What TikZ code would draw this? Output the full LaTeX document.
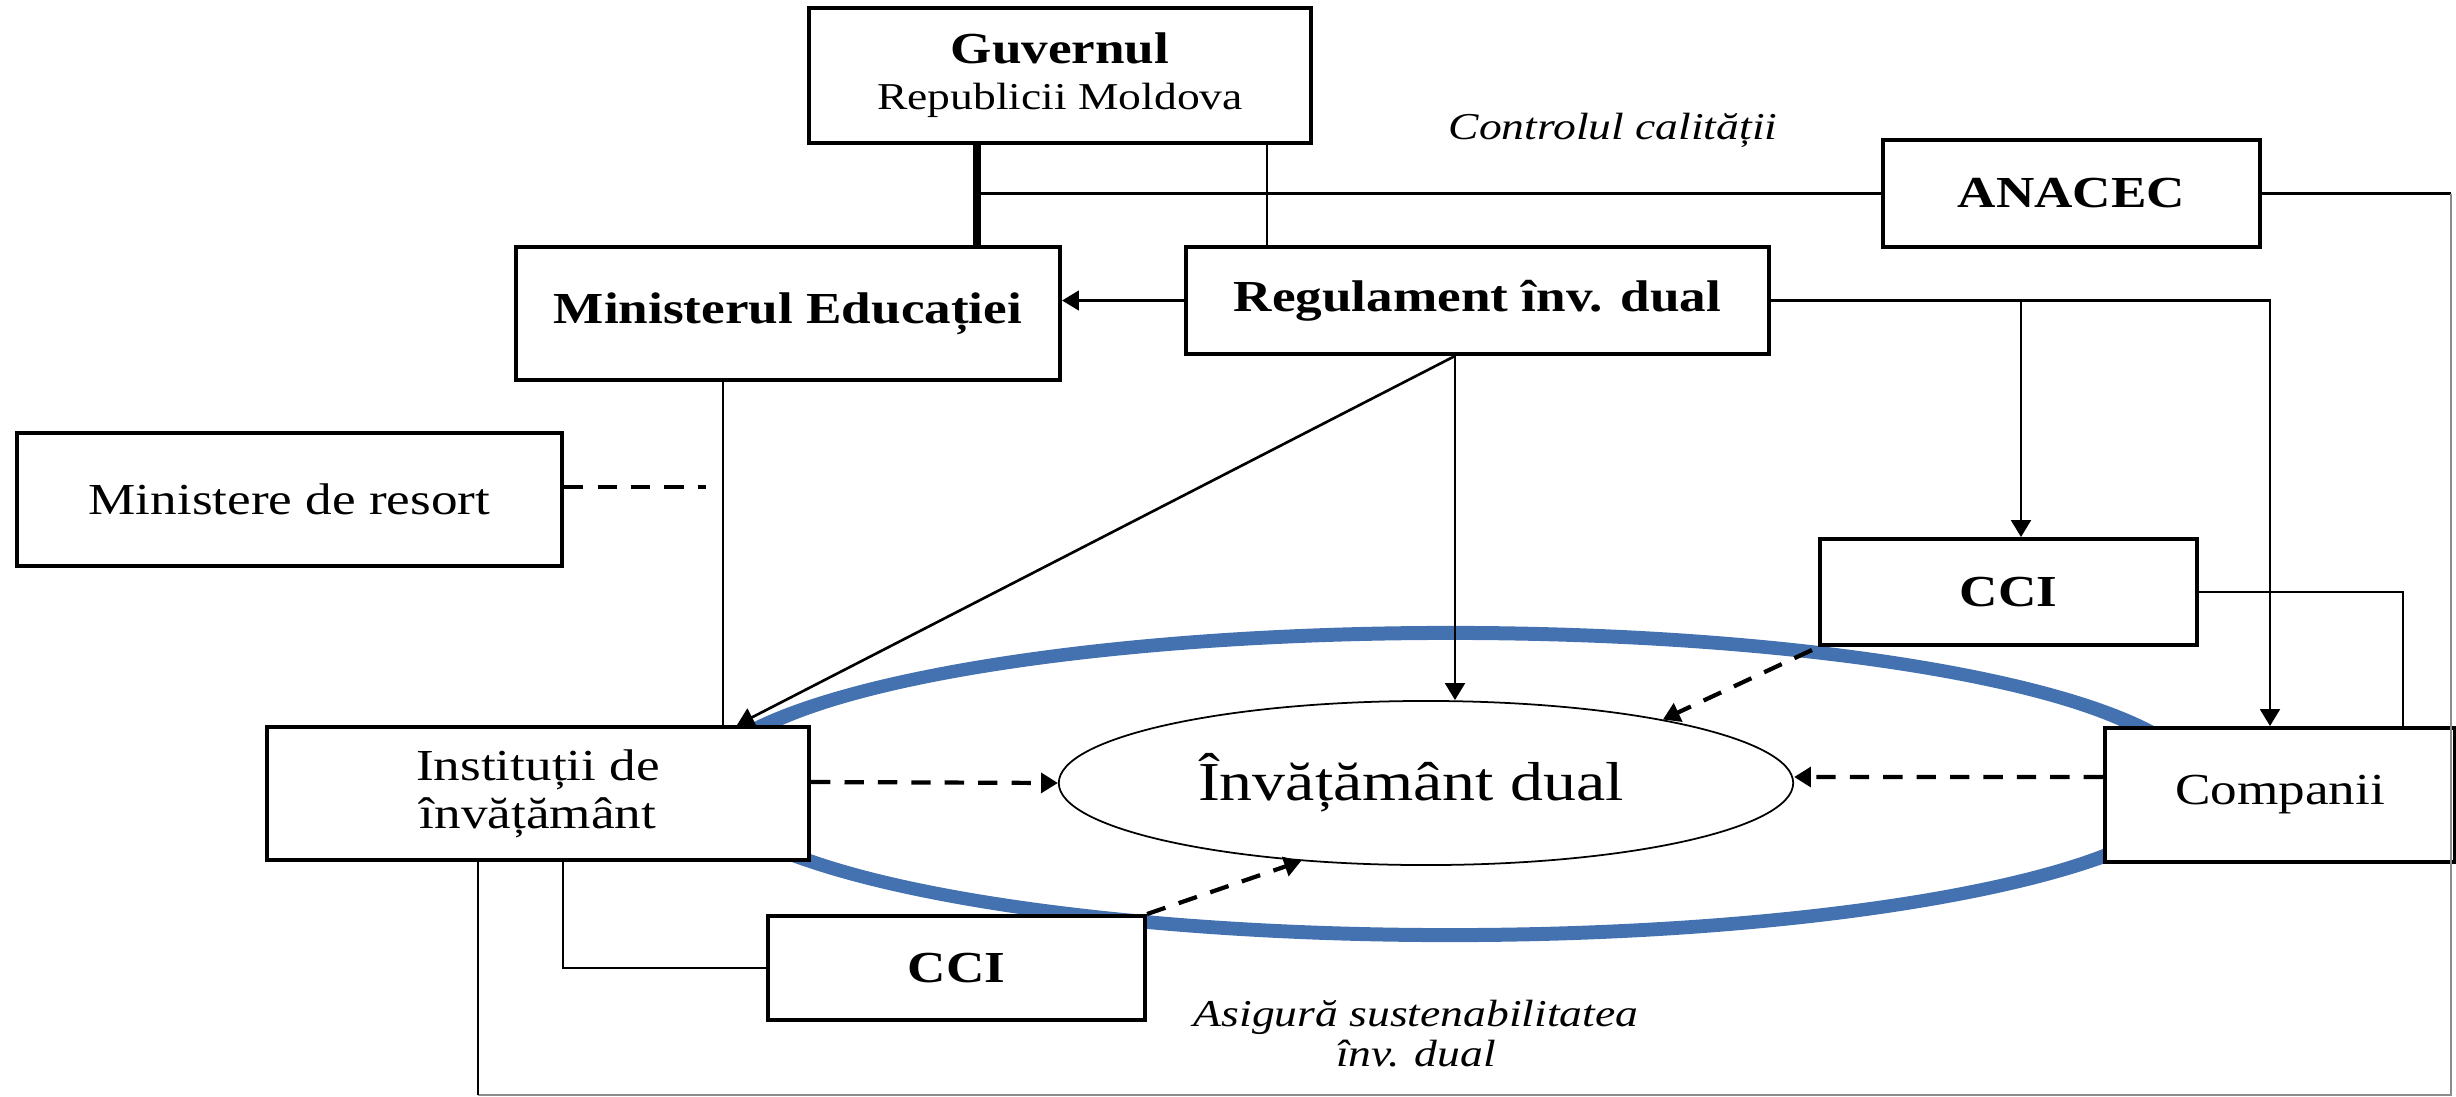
\documentclass[tikz,border=0pt]{standalone}
\usepackage{fontspec}
\setmainfont{Liberation Serif}[FakeStretch=1.2]
\usetikzlibrary{arrows.meta,shapes.geometric}
\definecolor{ringblue}{RGB}{68,114,176}
\tikzset{
  box/.style={draw, line width=1.1pt, fill=white, inner sep=0pt, align=center,
              font=\fontsize{12.6}{12}\selectfont},
  conn/.style={line width=0.75pt},
  thickconn/.style={line width=2pt},
  arr/.style={conn, -{Triangle[length=4.8pt,width=5.6pt]}},
  dsh/.style={line width=1.2pt, dash pattern=on 5.5pt off 4pt},
  dsharr/.style={dsh, -{Triangle[length=4.8pt,width=5.6pt]}},
  framegray/.style={line width=0.6pt, draw=black!45},
  lbl/.style={font=\fontsize{10.8}{11.4}\selectfont\itshape, align=center, inner sep=0pt},
}
\begin{document}
\begin{tikzpicture}[x=0.01cm,y=-0.01cm]
\useasboundingbox (0,0) rectangle (2456,1096);
% blue ring
\fill[ringblue, even odd rule] (1450,784) ellipse [x radius=7.56cm, y radius=1.58cm]
                               (1450,784) ellipse [x radius=7.31cm, y radius=1.44cm];
% frame
\coordinate (frTR) at (2451,193.5);
\coordinate (frBR) at (2451,1095);
\coordinate (frBL) at (478,1095);
% nodes
\node[box, minimum width=5.01cm, minimum height=1.35cm] (gov) at (1060,75.5) {\textbf{Guvernul}\\[1pt]{\fontsize{10.8}{12}\selectfont Republicii Moldova}};
\node[box, minimum width=5.44cm, minimum height=1.33cm] (min) at (788,313.5) {\textbf{Ministerul Educației}};
\node[box, minimum width=5.83cm, minimum height=1.07cm] (reg) at (1477.5,300.5) {\textbf{Regulament înv. dual}};
\node[box, minimum width=3.77cm, minimum height=1.07cm] (anacec) at (2071.5,193.5) {\textbf{ANACEC}};
\node[box, minimum width=5.45cm, minimum height=1.33cm] (mres) at (289.5,499.5) {Ministere de resort};
\node[box, minimum width=5.42cm, minimum height=1.33cm, font=\fontsize{12.6}{13.7}\selectfont] (inst) at (538,793.5) {Instituții de\\învățământ};
\node[box, minimum width=3.50cm, minimum height=1.34cm] (comp) at (2280,795) {Companii};
\node[box, minimum width=3.77cm, minimum height=1.06cm] (ccu) at (2008.5,592) {\textbf{CCI}};
\node[box, minimum width=3.77cm, minimum height=1.04cm] (ccl) at (956.5,968) {\textbf{CCI}};
\node[draw, ellipse, line width=0.5pt, fill=white, inner sep=0pt, minimum width=7.34cm, minimum height=1.64cm,
      font=\fontsize{15.6}{16}\selectfont] (dual) at (1426,783) {Învățământ dual\hspace*{0.3cm}};
\node[lbl] (ctrl) at (1613,130) {Controlul calității};
\node[lbl] (asig) at (1416,1034) {Asigură sustenabilitatea\\înv. dual};
% helper coordinates
\coordinate (xg) at (977,0);
\coordinate (xr) at (1267,0);
\coordinate (xc) at (2270,0);
\coordinate (xcc) at (2021,0);
\coordinate (xd) at (1455,0);
\coordinate (xi) at (737,0);
\coordinate (xm) at (723,0);
\coordinate (xdm) at (706,0);
\coordinate (xq) at (2403,0);
\coordinate (xl) at (563,0);
\coordinate (ytop) at (0,193.5);
% connectors
\draw[thickconn] (xg |- gov.south) -- (xg |- min.north);
\draw[conn] (xr |- gov.south) -- (xr |- reg.north);
\draw[conn] (xg |- ytop) -- (anacec.west);
\draw[conn] (anacec.east) -- (frTR);
\draw[framegray] (frTR) -- (frBR) -- (frBL);
\draw[conn] (frBL) -- (frBL |- inst.south);
\draw[arr] (reg.west) -- (reg.west -| min.east);
\draw[arr] (reg.east) -- (reg.east -| xc) -- (xc |- comp.north);
\draw[arr] (reg.east -| xcc) -- (xcc |- ccu.north);
\draw[arr] (xd |- reg.south) -- (xd |- dual.north);
\draw[arr] (xd |- reg.south) -- (xi |- inst.north);
\draw[conn] (xm |- min.south) -- (xm |- inst.north);
\draw[dsh] ([yshift=0.125cm]mres.east) -- ([yshift=0.125cm]mres.east -| xdm);
\draw[dsharr] ([yshift=0.115cm]inst.east) -- (dual.west);
\draw[dsharr] ([yshift=0.18cm]comp.west) -- ([yshift=0.06cm]dual.east);
\draw[dsharr] ([xshift=-0.06cm,yshift=-0.03cm]ccu.south west) -- (dual.15);
\draw[dsharr] (ccl.north east) -- (dual.212);
\draw[conn] (ccu.east) -- (ccu.east -| xq) -- (xq |- comp.north);
\draw[conn] (xl |- inst.south) -- (xl |- ccl.west) -- (ccl.west);
\end{tikzpicture}
\end{document}
